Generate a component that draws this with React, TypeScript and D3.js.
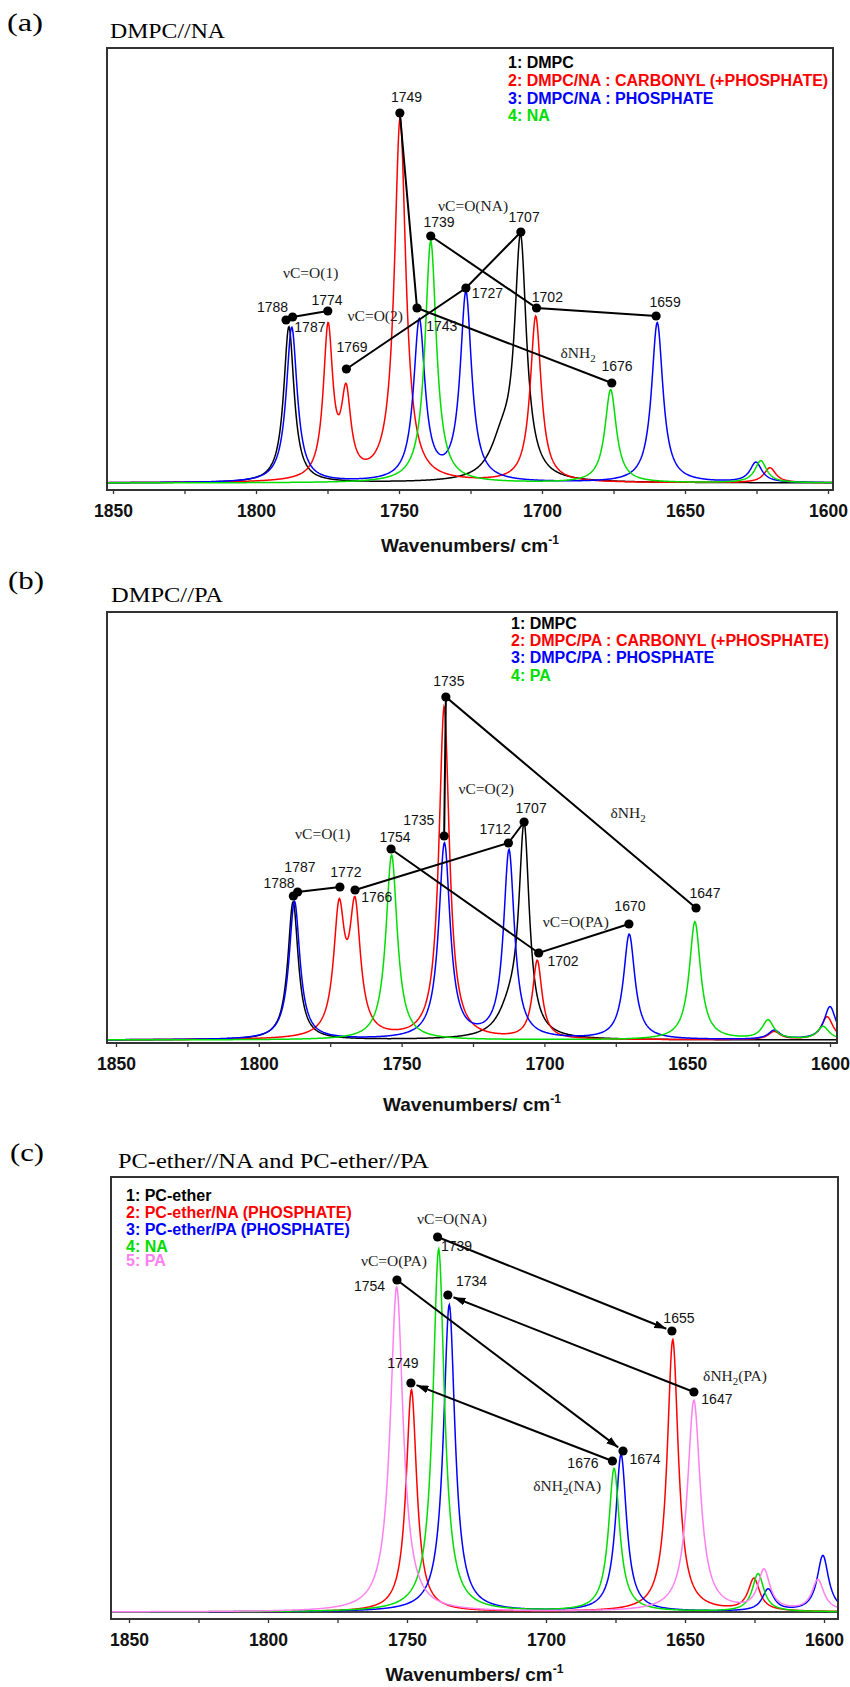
import React, { useEffect, useRef } from 'react';
import * as d3 from 'd3';

// [wavenumber (cm-1), absorbance (a.u.), half width (cm-1)]
type Peak = [number, number, number];
type Mark = { id: string; label: string; wn: number; v: number };
type Note = { text: string; wn: number; v: number };

const SERIF = '"Liberation Serif", "Times New Roman", serif';
const SANS = '"Liberation Sans", Arial, Helvetica, sans-serif';
const COLORS = ['#000000', '#ff0000', '#0000ff', '#00dd00', '#ff80f0'];

const tickValues = [1850, 1825, 1800, 1775, 1750, 1725, 1700, 1675, 1650, 1625, 1600];

// ---------- (a) DMPC//NA ----------
const legendA = ['1: DMPC', '2: DMPC/NA : CARBONYL (+PHOSPHATE)', '3: DMPC/NA : PHOSPHATE', '4: NA'];
const peaksA_dmpc: Peak[] = [[1788.5, 1.56, 2.2], [1707.5, 2.36, 2.5], [1714, 0.35, 5]];
const peaksA_carbonyl: Peak[] = [[1774.8, 1.5, 2.0], [1768.5, 0.8, 2.0], [1749.6, 3.63, 2.4], [1702.2, 1.66, 2.3], [1620.3, 0.15, 2.5]];
const peaksA_phosphate: Peak[] = [[1787.5, 1.55, 2.3], [1742.9, 1.6, 2.4], [1726.6, 1.88, 2.4], [1659.7, 1.6, 2.4], [1625.2, 0.2, 2.5]];
const peaksA_na: Peak[] = [[1738.9, 2.42, 2.4], [1676, 0.93, 2.4], [1623.5, 0.22, 2.5]];
const marksA: Mark[] = [
  { id: '1788', label: '1788', wn: 1789.5, v: 1.63 },
  { id: '1787', label: '1787', wn: 1787.2, v: 1.66 },
  { id: '1774', label: '1774', wn: 1774.9, v: 1.72 },
  { id: '1769', label: '1769', wn: 1768.4, v: 1.14 },
  { id: '1749', label: '1749', wn: 1749.7, v: 3.7 },
  { id: '1743', label: '1743', wn: 1743.7, v: 1.75 },
  { id: '1739', label: '1739', wn: 1738.9, v: 2.47 },
  { id: '1727', label: '1727', wn: 1726.6, v: 1.95 },
  { id: '1707', label: '1707', wn: 1707.4, v: 2.51 },
  { id: '1702', label: '1702', wn: 1701.9, v: 1.75 },
  { id: '1676', label: '1676', wn: 1675.6, v: 1.0 },
  { id: '1659', label: '1659', wn: 1660.1, v: 1.67 },
];
const linksA = [['1788', '1787', '1774'], ['1769', '1727', '1707'], ['1749', '1743', '1676'], ['1739', '1702', '1659']];
const notesA: Note[] = [
  { text: 'νC=O(1)', wn: 1780.9, v: 2.1 },
  { text: 'νC=O(2)', wn: 1758.3, v: 1.67 },
  { text: 'νC=O(NA)', wn: 1724.1, v: 2.77 },
  { text: 'δNH_2', wn: 1687.4, v: 1.3 },
];

// ---------- (b) DMPC//PA ----------
const legendB = ['1: DMPC', '2: DMPC/PA : CARBONYL (+PHOSPHATE)', '3: DMPC/PA : PHOSPHATE', '4: PA'];
const peaksB_dmpc: Peak[] = [[1788, 1.38, 2.2], [1707.1, 2.05, 2.2], [1712, 0.25, 5]];
const peaksB_carbonyl: Peak[] = [[1771.9, 1.22, 2.3], [1766.3, 1.24, 2.3], [1735.1, 3.32, 2.2], [1702.5, 0.78, 2.0], [1619.5, 0.08, 2.5], [1601, 0.23, 2.5]];
const peaksB_phosphate: Peak[] = [[1787.5, 1.38, 2.3], [1735, 1.95, 2.4], [1712.4, 1.88, 2.3], [1670.3, 1.05, 2.4], [1619.5, 0.09, 2.5], [1600, 0.33, 2.5]];
const peaksB_pa: Peak[] = [[1753.5, 1.85, 2.4], [1647.3, 1.18, 2.4], [1621.7, 0.19, 2.5], [1602.4, 0.13, 2.5]];
const marksB: Mark[] = [
  { id: '1788', label: '1788', wn: 1787.9, v: 1.44 },
  { id: '1787', label: '1787', wn: 1786.4, v: 1.48 },
  { id: '1772', label: '1772', wn: 1771.6, v: 1.53 },
  { id: '1766', label: '1766', wn: 1766.3, v: 1.5 },
  { id: '1754', label: '1754', wn: 1753.7, v: 1.91 },
  { id: '1735top', label: '1735', wn: 1734.5, v: 3.43 },
  { id: '1735low', label: '1735', wn: 1735.1, v: 2.04 },
  { id: '1712', label: '1712', wn: 1712.6, v: 1.97 },
  { id: '1707', label: '1707', wn: 1707.1, v: 2.18 },
  { id: '1702', label: '1702', wn: 1702.0, v: 0.87 },
  { id: '1670', label: '1670', wn: 1670.4, v: 1.16 },
  { id: '1647', label: '1647', wn: 1646.9, v: 1.32 },
];
const linksB = [['1788', '1787', '1772'], ['1766', '1712', '1707'], ['1735low', '1735top', '1647'], ['1754', '1702', '1670']];
const notesB: Note[] = [
  { text: 'νC=O(1)', wn: 1777.6, v: 2.06 },
  { text: 'νC=O(2)', wn: 1720.4, v: 2.51 },
  { text: 'νC=O(PA)', wn: 1689, v: 1.18 },
  { text: 'δNH_2', wn: 1670.7, v: 2.27 },
];

// ---------- (c) PC-ether//NA and PC-ether//PA ----------
const legendC = ['1: PC-ether', '2: PC-ether/NA (PHOSPHATE)', '3: PC-ether/PA (PHOSPHATE)', '4: NA', '5: PA'];
const peaksC_ether: Peak[] = [];
const peaksC_etherNA: Peak[] = [[1748.4, 2.22, 2.3], [1654.4, 2.72, 2.4], [1625.2, 0.32, 2.5]];
const peaksC_etherPA: Peak[] = [[1734.8, 3.07, 2.5], [1673, 1.57, 2.4], [1620.1, 0.22, 2.5], [1600.4, 0.56, 2.5]];
const peaksC_na: Peak[] = [[1738.6, 3.63, 2.5], [1675.5, 1.43, 2.4], [1623.7, 0.38, 2.5]];
const peaksC_pa: Peak[] = [[1753.7, 3.25, 2.8], [1646.8, 2.11, 2.8], [1621.6, 0.4, 2.6], [1602.2, 0.31, 2.6]];
const marksC: Mark[] = [
  { id: '1739', label: '1739', wn: 1739.0, v: 3.75 },
  { id: '1754', label: '1754', wn: 1753.6, v: 3.32 },
  { id: '1734', label: '1734', wn: 1735.3, v: 3.17 },
  { id: '1655', label: '1655', wn: 1654.7, v: 2.81 },
  { id: '1749', label: '1749', wn: 1748.6, v: 2.29 },
  { id: '1647', label: '1647', wn: 1646.8, v: 2.2 },
  { id: '1674', label: '1674', wn: 1672.3, v: 1.61 },
  { id: '1676', label: '1676', wn: 1676.1, v: 1.51 },
];
const arrowsC = [['1739', '1655'], ['1647', '1734'], ['1754', '1674'], ['1676', '1749']];
const notesC: Note[] = [
  { text: 'νC=O(NA)', wn: 1733.8, v: 3.93 },
  { text: 'νC=O(PA)', wn: 1754.7, v: 3.51 },
  { text: 'δNH_2(PA)', wn: 1632, v: 2.36 },
  { text: 'δNH_2(NA)', wn: 1692.4, v: 1.26 },
];

// label offsets from their dot (px), layout only
const labelOffsetsA: Record<string, [number, number]> = {
  '1788': [-13.5, -13], '1787': [17.3, 10], '1774': [-0.7, -11], '1769': [5.7, -22.3],
  '1749': [6.7, -15.7], '1743': [24.7, 17.7], '1739': [8.3, -13.7], '1727': [21.5, 5],
  '1707': [3.3, -15], '1702': [10.8, -11], '1676': [5.3, -17.3], '1659': [9, -14],
};
const labelOffsetsB: Record<string, [number, number]> = {
  '1788': [-14.3, -13], '1787': [2.3, -24.6], '1772': [6, -14.7], '1766': [21.7, 7.3],
  '1754': [4, -12.3], '1735top': [3, -16], '1735low': [-25.3, -15.7], '1712': [-13.3, -14.3],
  '1707': [7, -14], '1702': [24.3, 8.4], '1670': [1, -18], '1647': [9, -14.7],
};
const labelOffsetsC: Record<string, [number, number]> = {
  '1739': [19, 9], '1754': [-27.4, 6.4], '1734': [23.7, -14], '1655': [7, -13],
  '1749': [-8, -20], '1647': [23, 6.6], '1674': [22, 7.7], '1676': [-29.5, 2.4],
};

const panels = [
  {
    letter: '(a)', title: 'DMPC//NA', legend: legendA,
    series: [peaksA_dmpc, peaksA_carbonyl, peaksA_phosphate, peaksA_na],
    marks: marksA, links: linksA, arrows: [] as string[][], notes: notesA, offsets: labelOffsetsA,
    layout: {
      frame: { l: 107, t: 48, r: 833, b: 490 }, x1850: 113, x1600: 828, baseline: 483,
      letter: { x: 7, y: 31, len: 36 }, title: { x: 110, y: 38, len: 115 },
      legend: { x: 508, ys: [68, 86, 104, 121] }, axisTitleY: 552,
    },
  },
  {
    letter: '(b)', title: 'DMPC//PA', legend: legendB,
    series: [peaksB_dmpc, peaksB_carbonyl, peaksB_phosphate, peaksB_pa],
    marks: marksB, links: linksB, arrows: [] as string[][], notes: notesB, offsets: labelOffsetsB,
    layout: {
      frame: { l: 107, t: 612, r: 837, b: 1043 }, x1850: 116, x1600: 830, baseline: 1040,
      letter: { x: 8, y: 589, len: 36 }, title: { x: 111, y: 601.5, len: 112 },
      legend: { x: 511, ys: [629, 646, 663, 681] }, axisTitleY: 1111,
    },
  },
  {
    letter: '(c)', title: 'PC-ether//NA and PC-ether//PA', legend: legendC,
    series: [peaksC_ether, peaksC_etherNA, peaksC_etherPA, peaksC_na, peaksC_pa],
    marks: marksC, links: [] as string[][], arrows: arrowsC, notes: notesC, offsets: labelOffsetsC,
    layout: {
      frame: { l: 111, t: 1177, r: 838, b: 1619 }, x1850: 129, x1600: 824, baseline: 1612,
      letter: { x: 10, y: 1160.5, len: 34 }, title: { x: 118, y: 1167.5, len: 311 },
      legend: { x: 126, ys: [1201, 1218, 1235, 1252, 1266] }, axisTitleY: 1681,
    },
  },
];

const absorbance = (peaks: Peak[], wn: number) =>
  peaks.reduce((sum, [c, h, w]) => sum + h / (1 + ((wn - c) / w) ** 2), 0);

// text with "_2" style subscript
const addRichText = (sel: d3.Selection<SVGTextElement, unknown, null, undefined>, text: string) => {
  const i = text.indexOf('_');
  if (i < 0) { sel.text(text); return; }
  sel.append('tspan').text(text.slice(0, i));
  sel.append('tspan').attr('font-size', '0.7em').attr('dy', 4).text(text[i + 1]);
  if (text.length > i + 2) sel.append('tspan').attr('dy', -4).text(text.slice(i + 2));
};

const App: React.FC = () => {
  const svgRef = useRef<SVGSVGElement>(null);

  useEffect(() => {
    if (!svgRef.current) return;
    const svg = d3.select(svgRef.current);
    svg.selectAll('*').remove();

    const defs = svg.append('defs');
    defs.append('marker')
      .attr('id', 'arrowhead')
      .attr('viewBox', '0 0 12 8')
      .attr('refX', 12).attr('refY', 4)
      .attr('markerWidth', 12).attr('markerHeight', 8)
      .attr('markerUnits', 'userSpaceOnUse')
      .attr('orient', 'auto')
      .append('path').attr('d', 'M0,0 L12,4 L0,8 Z').attr('fill', '#000');

    panels.forEach((p, i) => {
      const L = p.layout;
      const { l, t, r, b } = L.frame;
      const x = d3.scaleLinear().domain([1850, 1600]).range([L.x1850, L.x1600]);
      const y = d3.scaleLinear().domain([0, 4]).range([L.baseline, L.baseline - 400]);
      const g = svg.append('g');

      // panel letter + title
      g.append('text')
        .attr('x', L.letter.x).attr('y', L.letter.y)
        .attr('font-family', SERIF).attr('font-size', 26)
        .attr('textLength', L.letter.len).attr('lengthAdjust', 'spacingAndGlyphs')
        .text(p.letter);
      g.append('text')
        .attr('x', L.title.x).attr('y', L.title.y)
        .attr('font-family', SERIF).attr('font-size', 20)
        .attr('textLength', L.title.len).attr('lengthAdjust', 'spacingAndGlyphs')
        .text(p.title);

      // spectra
      const clipId = `clip-${i}`;
      defs.append('clipPath').attr('id', clipId)
        .append('rect').attr('x', l).attr('y', t).attr('width', r - l).attr('height', b - t);
      const wnGrid = d3.range(x.invert(r), x.invert(l), 0.2);
      const line = d3.line<[number, number]>().x(d => x(d[0])).y(d => y(d[1]));
      const curves = g.append('g').attr('clip-path', `url(#${clipId})`);
      p.series.forEach((peaks, si) => {
        curves.append('path')
          .datum(wnGrid.map(w => [w, absorbance(peaks, w)] as [number, number]))
          .attr('fill', 'none')
          .attr('stroke', COLORS[si])
          .attr('stroke-width', 1.5)
          .attr('d', line);
      });

      // frame
      g.append('rect')
        .attr('x', l).attr('y', t).attr('width', r - l).attr('height', b - t)
        .attr('fill', 'none').attr('stroke', '#333').attr('stroke-width', 2);

      // x axis
      const axis = d3.axisBottom(x)
        .tickValues(tickValues)
        .tickSize(4)
        .tickPadding(11)
        .tickFormat(d => (+d % 50 === 0 ? String(d) : ''));
      const ag = g.append('g').attr('transform', `translate(0,${b})`).call(axis);
      ag.select('.domain').remove();
      ag.selectAll('line').attr('stroke', '#333').attr('stroke-width', 1.3);
      ag.selectAll('text')
        .attr('font-family', SANS).attr('font-weight', 'bold')
        .attr('font-size', 17.5).attr('fill', '#111');

      const axisTitle = g.append('text')
        .attr('x', (l + r) / 2).attr('y', L.axisTitleY)
        .attr('text-anchor', 'middle')
        .attr('font-family', SANS).attr('font-weight', 'bold').attr('font-size', 19)
        .attr('fill', '#111');
      axisTitle.append('tspan').text('Wavenumbers/ cm');
      axisTitle.append('tspan').attr('font-size', 12).attr('dy', -8).text('-1');

      // legend
      p.legend.forEach((txt, li) => {
        g.append('text')
          .attr('x', L.legend.x).attr('y', L.legend.ys[li])
          .attr('font-family', SANS).attr('font-weight', 'bold').attr('font-size', 16)
          .attr('fill', COLORS[li])
          .text(txt);
      });

      // peak links and arrows
      const pos = new Map(p.marks.map(m => [m.id, [x(m.wn), y(m.v)] as [number, number]]));
      p.links.forEach(chain => {
        g.append('path')
          .attr('d', d3.line()(chain.map(id => pos.get(id)!)))
          .attr('fill', 'none').attr('stroke', '#000').attr('stroke-width', 2);
      });
      p.arrows.forEach(([from, to]) => {
        const [x0, y0] = pos.get(from)!;
        const [x1, y1] = pos.get(to)!;
        const len = Math.hypot(x1 - x0, y1 - y0);
        const k = (len - 6) / len;
        g.append('line')
          .attr('x1', x0).attr('y1', y0)
          .attr('x2', x0 + (x1 - x0) * k).attr('y2', y0 + (y1 - y0) * k)
          .attr('stroke', '#000').attr('stroke-width', 2)
          .attr('marker-end', 'url(#arrowhead)');
      });
      g.selectAll(null).data(p.marks).enter().append('circle')
        .attr('cx', d => x(d.wn)).attr('cy', d => y(d.v)).attr('r', 4.6).attr('fill', '#000');

      // peak labels
      p.marks.forEach(m => {
        const [dx, dy] = p.offsets[m.id];
        g.append('text')
          .attr('x', x(m.wn) + dx).attr('y', y(m.v) + dy + 5)
          .attr('text-anchor', 'middle')
          .attr('font-family', SANS).attr('font-size', 14).attr('fill', '#111')
          .text(m.label);
      });

      // band notes
      p.notes.forEach(n => {
        const tx = g.append('text')
          .attr('x', x(n.wn)).attr('y', y(n.v) + 5)
          .attr('text-anchor', 'middle')
          .attr('font-family', SERIF).attr('font-size', 15.5).attr('fill', '#222');
        addRichText(tx, n.text);
      });
    });
  }, []);

  return (
    <svg
      ref={svgRef}
      width={850}
      height={1687}
      viewBox="0 0 850 1687"
      style={{ position: 'absolute', left: 0, top: 0, background: '#fff' }}
    />
  );
};

export default App;
